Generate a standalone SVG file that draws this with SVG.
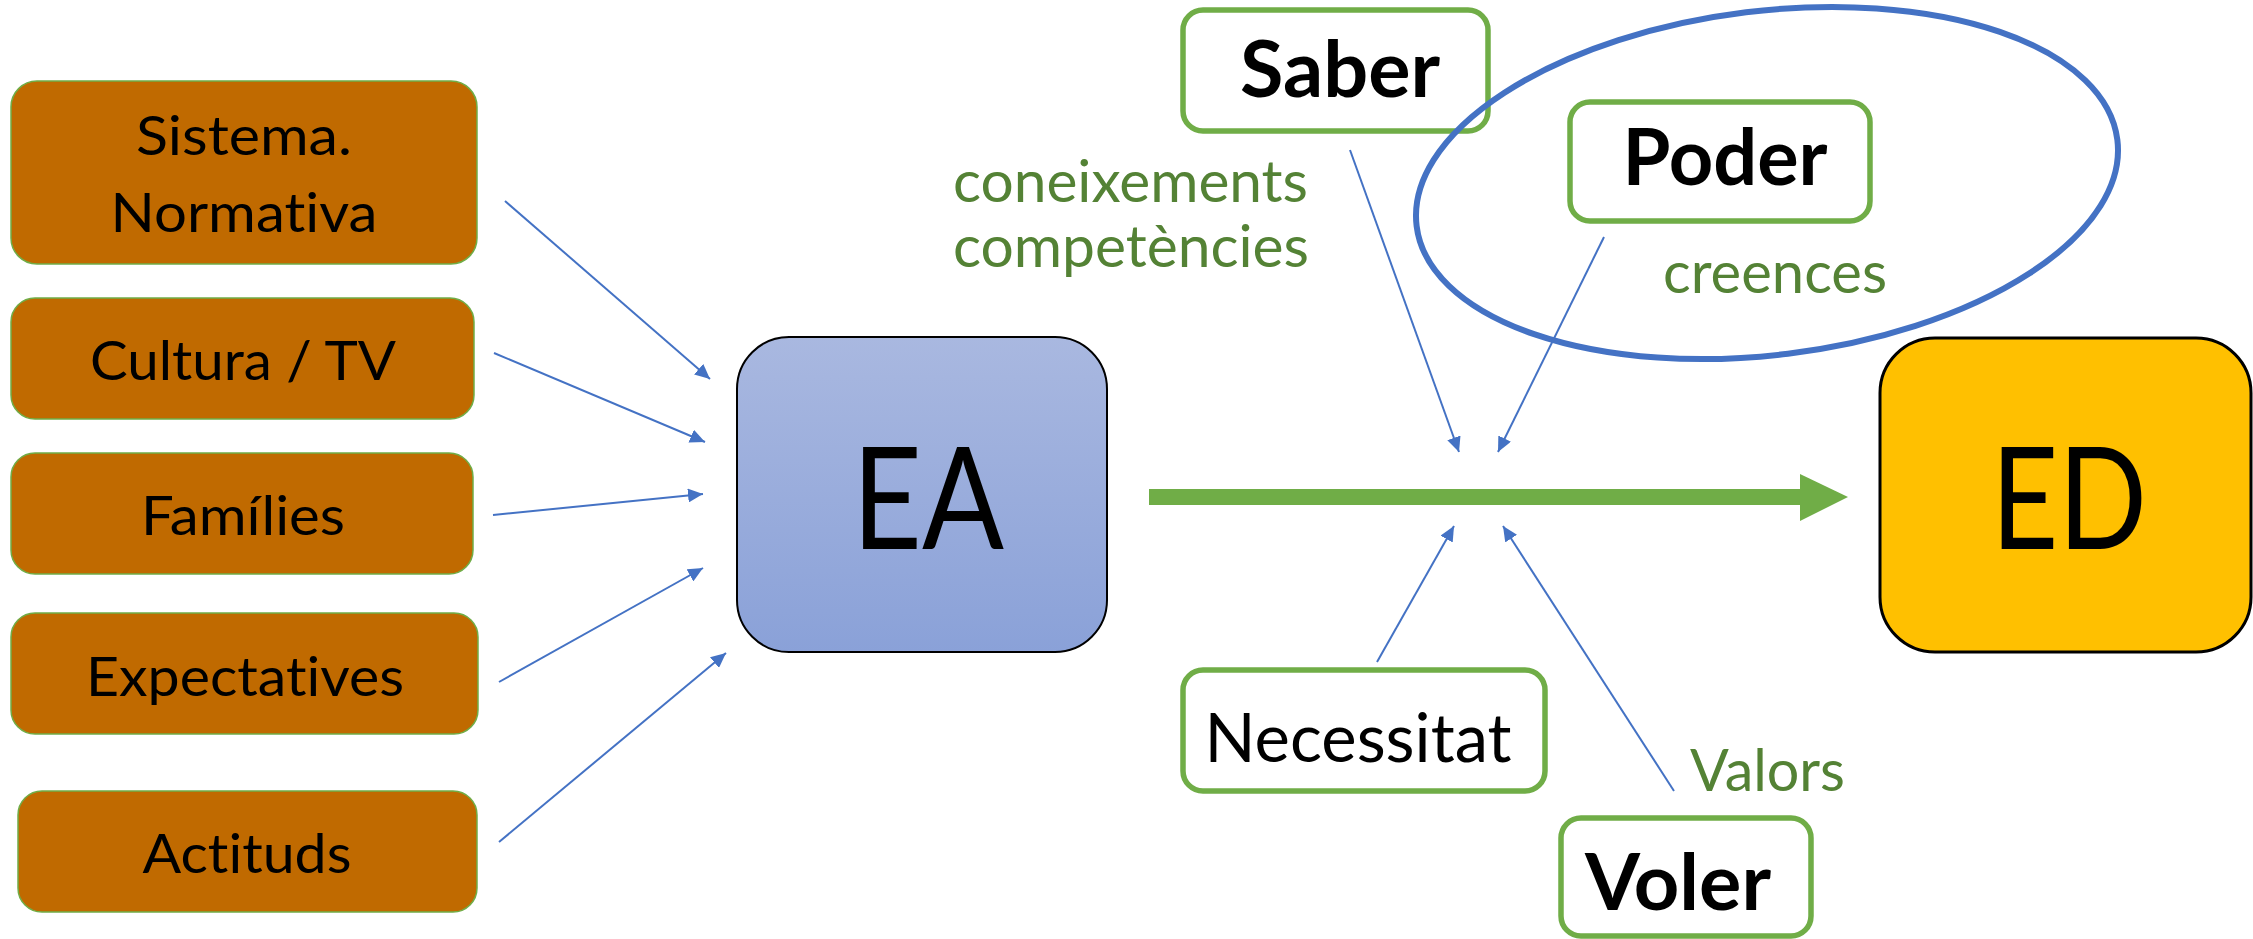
<svg xmlns="http://www.w3.org/2000/svg" width="2253" height="939" viewBox="0 0 2253 939">
<style>
.brown{fill:#C06A00;stroke:#70AD47;stroke-width:1.5}
.gbox{fill:#FFFFFF;stroke:#70AD47;stroke-width:5.5}
.t{font-family:Lato,"Open Sans","Liberation Sans",sans-serif;fill:#000;text-anchor:middle;font-variant-ligatures:none}
.lbl{font-size:54px}
.bold{font-weight:bold;font-size:78px}
.gt{font-family:Lato,"Open Sans","Liberation Sans",sans-serif;fill:#548235;font-size:58px;font-variant-ligatures:none}
.conn{stroke:#4472C4;stroke-width:2;fill:none;marker-end:url(#ah)}
</style>
<defs>
<linearGradient id="eag" x1="0" y1="0" x2="0" y2="1">
<stop offset="0" stop-color="#A9B8E0"/>
<stop offset="1" stop-color="#8AA1D8"/>
</linearGradient>
<marker id="ah" markerUnits="userSpaceOnUse" markerWidth="16" markerHeight="14" refX="15" refY="7" orient="auto">
<path d="M0,0 L15,7 L0,14 z" fill="#4472C4"/>
</marker>
</defs>

<g id="sistema">
<rect class="brown" x="11" y="81" width="466" height="183" rx="26"/>
<text class="t lbl" x="244" y="155" textLength="216" lengthAdjust="spacingAndGlyphs">Sistema.</text>
<text class="t lbl" x="244" y="232" textLength="267" lengthAdjust="spacingAndGlyphs">Normativa</text>
</g>
<g id="cultura">
<rect class="brown" x="11" y="298" width="463" height="121" rx="24"/>
<text class="t lbl" x="243" y="380" textLength="306" lengthAdjust="spacingAndGlyphs">Cultura / TV</text>
</g>
<g id="families">
<rect class="brown" x="11" y="453" width="462" height="121" rx="24"/>
<text class="t lbl" x="243" y="535" textLength="204" lengthAdjust="spacingAndGlyphs">Famílies</text>
</g>
<g id="expectatives">
<rect class="brown" x="11" y="613" width="467" height="121" rx="24"/>
<text class="t lbl" x="245" y="696" textLength="318" lengthAdjust="spacingAndGlyphs">Expectatives</text>
</g>
<g id="actituds">
<rect class="brown" x="18" y="791" width="459" height="121" rx="24"/>
<text class="t lbl" x="247" y="873" textLength="209" lengthAdjust="spacingAndGlyphs">Actituds</text>
</g>

<g id="ea">
<rect x="737" y="337" width="370" height="315" rx="52" fill="url(#eag)" stroke="#000" stroke-width="2"/>
<text class="t" x="928" y="549" font-size="141" textLength="152" lengthAdjust="spacingAndGlyphs">EA</text>
</g>

<g id="ed">
<rect x="1880" y="338" width="371" height="314" rx="55" fill="#FFC000" stroke="#000" stroke-width="3"/>
<text class="t" x="2069" y="549" font-size="141" textLength="156" lengthAdjust="spacingAndGlyphs">ED</text>
</g>

<g id="saber">
<rect class="gbox" x="1183" y="10" width="305" height="121" rx="20"/>
<text class="t bold" x="1340" y="97" textLength="200" lengthAdjust="spacingAndGlyphs">Saber</text>
</g>

<g id="poder">
<rect class="gbox" x="1570" y="102" width="300" height="119" rx="20"/>
<text class="t bold" x="1725" y="185" textLength="205" lengthAdjust="spacingAndGlyphs">Poder</text>
</g>

<g id="necessitat">
<rect class="gbox" x="1183" y="670" width="362" height="121" rx="20"/>
<text class="t" x="1358" y="762" font-size="67" textLength="307" lengthAdjust="spacingAndGlyphs">Necessitat</text>
</g>

<g id="voler">
<rect class="gbox" x="1561" y="818" width="250" height="118" rx="20"/>
<text class="t bold" x="1678" y="910" textLength="186" lengthAdjust="spacingAndGlyphs">Voler</text>
</g>

<g id="ellipse">
<ellipse cx="1767" cy="183" rx="353" ry="172" transform="rotate(-7 1767 183)" fill="none" stroke="#4472C4" stroke-width="6"/>
</g>

<g id="labels">
<text class="gt" x="953" y="202" textLength="355" lengthAdjust="spacingAndGlyphs">coneixements</text>
<text class="gt" x="953" y="267" textLength="356" lengthAdjust="spacingAndGlyphs">competències</text>
<text class="gt" x="1663" y="293" textLength="224" lengthAdjust="spacingAndGlyphs">creences</text>
<text class="gt" x="1690" y="791" textLength="155" lengthAdjust="spacingAndGlyphs">Valors</text>
</g>

<g id="connectors">
<line class="conn" x1="505" y1="201" x2="710" y2="379"/>
<line class="conn" x1="494" y1="353" x2="705" y2="442"/>
<line class="conn" x1="493" y1="515" x2="703" y2="494"/>
<line class="conn" x1="499" y1="682" x2="703" y2="568"/>
<line class="conn" x1="499" y1="842" x2="726" y2="653"/>
<line class="conn" x1="1350" y1="150" x2="1459" y2="452"/>
<line class="conn" x1="1604" y1="237" x2="1498" y2="452"/>
<line class="conn" x1="1377" y1="662" x2="1454" y2="526"/>
<line class="conn" x1="1674" y1="791" x2="1503" y2="526"/>
<line x1="1149" y1="497" x2="1802" y2="497" stroke="#70AD47" stroke-width="16"/>
<polygon points="1800,474 1848,497 1800,521" fill="#70AD47"/>
</g>
</svg>
